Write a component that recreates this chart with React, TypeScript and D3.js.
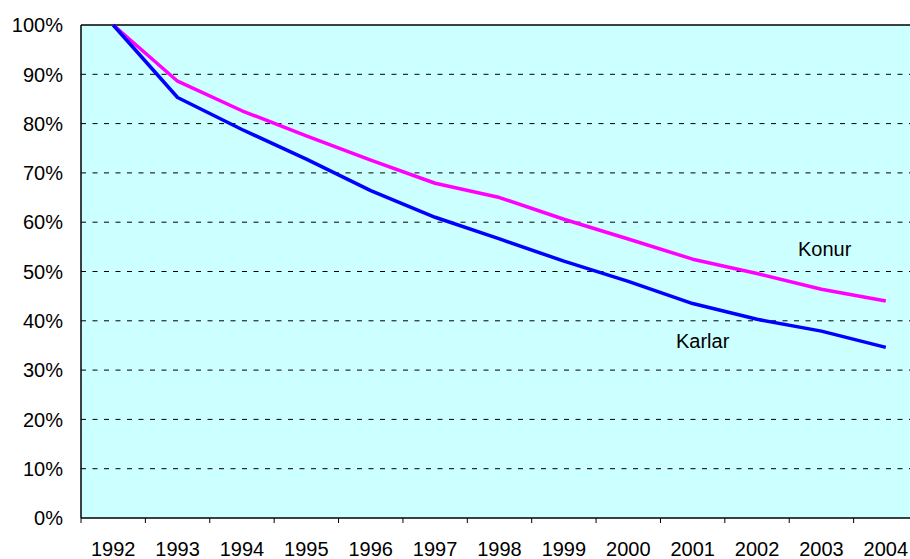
import React from "react";
import * as d3 from "d3";

const years = ["1992","1993","1994","1995","1996","1997","1998","1999","2000","2001","2002","2003","2004"];
const konur = [100, 88.6, 82.6, 77.5, 72.6, 67.9, 65.0, 60.6, 56.6, 52.5, 49.6, 46.4, 44.0];
const karlar = [100, 85.3, 78.8, 72.8, 66.4, 61.0, 56.6, 52.1, 48.0, 43.5, 40.3, 37.9, 34.6];
const yTicks = [0, 10, 20, 30, 40, 50, 60, 70, 80, 90, 100];

const W = 910, H = 559;
const L = 81, R = 918, T = 25, B = 518;

export default function App() {
  const x = d3.scaleBand<string>().domain(years).range([L, R]);
  const cx = (yr: string) => (x(yr) as number) + x.bandwidth() / 2;
  const y = d3.scaleLinear().domain([0, 100]).range([B, T]);
  const line = d3.line<number>().x((_, i) => cx(years[i])).y((d) => y(d));
  const font = "Arial, 'Liberation Sans', sans-serif";
  return (
    <svg width={W} height={H} style={{ position: "absolute", left: 0, top: 0, background: "#fff" }}>
      <rect x={L} y={T} width={R - L} height={B - T} fill="#CCFFFF" />
      {yTicks.filter((t) => t > 0 && t < 100).map((t) => (
        <line key={t} x1={L} x2={R} y1={y(t)} y2={y(t)} stroke="#000" strokeWidth={1} strokeDasharray="5,6.5" />
      ))}
      <line x1={L} x2={R} y1={T} y2={T} stroke="#000" strokeWidth={1.5} />
      <line x1={L} x2={L} y1={T} y2={B} stroke="#000" strokeWidth={1.5} />
      <line x1={L} x2={R} y1={B} y2={B} stroke="#000" strokeWidth={1.5} />
      {years.map((yr) => (
        <line key={yr} x1={x(yr) as number} x2={x(yr) as number} y1={B} y2={B + 5} stroke="#000" strokeWidth={1} />
      ))}
      <path d={line(konur) || ""} fill="none" stroke="#FF00FF" strokeWidth={3.5} strokeLinejoin="round" />
      <path d={line(karlar) || ""} fill="none" stroke="#0000FF" strokeWidth={3.5} strokeLinejoin="round" />
      {yTicks.map((t) => (
        <text key={t} x={63} y={y(t)} dy="0.36em" textAnchor="end" fontFamily={font} fontSize={20} fill="#000">
          {t}%
        </text>
      ))}
      {years.map((yr) => (
        <text key={yr} x={cx(yr)} y={556} textAnchor="middle" fontFamily={font} fontSize={20} fill="#000">
          {yr}
        </text>
      ))}
      <text x={798} y={256} fontFamily={font} fontSize={20} fill="#000">Konur</text>
      <text x={676} y={348} fontFamily={font} fontSize={20} fill="#000">Karlar</text>
    </svg>
  );
}
